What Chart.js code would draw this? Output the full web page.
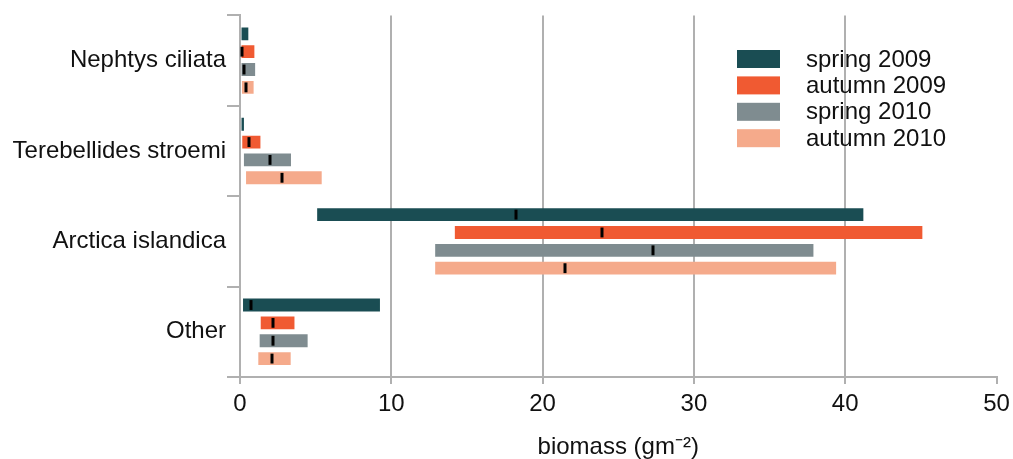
<!DOCTYPE html>
<html>
<head>
<meta charset="utf-8">
<script src="https://cdn.jsdelivr.net/npm/chart.js@4/dist/chart.umd.min.js"></script>
<style>
html,body{margin:0;padding:0;background:#fff;}
#wrap{position:relative;width:1013px;height:459px;}
</style>
</head>
<body>
<div id="wrap"><canvas id="c" width="1013" height="459"></canvas></div>
<script>
const categories = ['Nephtys ciliata', 'Terebellides stroemi', 'Arctica islandica', 'Other'];
const seriesNames = ['spring 2009', 'autumn 2009', 'spring 2010', 'autumn 2010'];
const seriesColors = ['#1a4d53', '#f05a32', '#7f8c90', '#f5aa8b'];

const spring2009Min = [0.1, 0.1, 5.1, 0.2];
const spring2009Max = [0.55, 0.26, 41.2, 9.25];
const spring2009Median = [null, null, 18.25, 0.75];

const autumn2009Min = [0.1, 0.15, 14.2, 1.37];
const autumn2009Max = [0.95, 1.35, 45.1, 3.6];
const autumn2009Median = [0.15, 0.6, 23.9, 2.2];

const spring2010Min = [0.1, 0.26, 12.9, 1.3];
const spring2010Max = [1.0, 3.37, 37.9, 4.47];
const spring2010Median = [0.28, 2.0, 27.3, 2.16];

const autumn2010Min = [0.13, 0.4, 12.9, 1.21];
const autumn2010Max = [0.9, 5.4, 39.4, 3.35];
const autumn2010Median = [0.42, 2.78, 21.45, 2.12];

const xTicks = [0, 10, 20, 30, 40, 50];

const mins = [spring2009Min, autumn2009Min, spring2010Min, autumn2010Min];
const maxs = [spring2009Max, autumn2009Max, spring2010Max, autumn2010Max];
const medians = [spring2009Median, autumn2009Median, spring2010Median, autumn2010Median];

const FONT = "'Liberation Sans', Arial, Helvetica, sans-serif";
const AXIS = '#b0b0b0';

const datasets = seriesNames.map((name, i) => ({
  label: name,
  data: categories.map((c, j) => [mins[i][j], maxs[i][j]]),
  medians: medians[i],
  backgroundColor: seriesColors[i],
  borderWidth: 0,
  borderSkipped: false,
  categoryPercentage: 0.79,
  barPercentage: 0.72
}));

const medianPlugin = {
  id: 'medianMarks',
  afterDatasetsDraw(chart) {
    const ctx = chart.ctx;
    const xs = chart.scales.x;
    chart.data.datasets.forEach((ds, i) => {
      const meta = chart.getDatasetMeta(i);
      meta.data.forEach((bar, j) => {
        const m = ds.medians[j];
        if (m === null || m === undefined) return;
        const px = xs.getPixelForValue(m);
        const h = bar.height - 3;
        ctx.save();
        ctx.fillStyle = '#000';
        ctx.fillRect(Math.round(px) - 1.5, bar.y - h / 2, 3, h);
        ctx.restore();
      });
    });
  }
};

const legendPlugin = {
  id: 'customLegend',
  afterDraw(chart) {
    const ctx = chart.ctx;
    ctx.save();
    ctx.font = '24px ' + FONT;
    ctx.textBaseline = 'middle';
    ctx.textAlign = 'left';
    chart.data.datasets.forEach((ds, i) => {
      const y = 50 + i * 26.4;
      ctx.fillStyle = ds.backgroundColor;
      ctx.fillRect(737, y, 43, 18);
      ctx.fillStyle = '#111';
      ctx.fillText(ds.label, 806, y + 10);
    });
    ctx.restore();
  }
};

new Chart(document.getElementById('c'), {
  type: 'bar',
  data: { labels: categories, datasets },
  options: {
    indexAxis: 'y',
    responsive: false,
    animation: false,
    layout: { padding: { top: 13, right: 16.5, bottom: 0, left: 0 } },
    plugins: { legend: { display: false }, tooltip: { enabled: false } },
    scales: {
      x: {
        type: 'linear',
        min: 0,
        max: 50,
        afterBuildTicks(scale) { scale.ticks = xTicks.map(v => ({ value: v })); },
        afterFit(scale) { scale.height = 82; scale.paddingLeft = 0; scale.paddingRight = 0; },
        grid: {
          color: ctx => (ctx.tick && (ctx.tick.value === 0 || ctx.tick.value === 50)) ? 'rgba(0,0,0,0)' : AXIS,
          lineWidth: 2,
          tickColor: AXIS,
          tickLength: 7,
          drawTicks: true
        },
        border: { color: AXIS, width: 2 },
        ticks: {
          color: '#111',
          font: { family: FONT, size: 24 },
          padding: 6,
          maxRotation: 0
        },
        title: {
          display: true,
          text: 'biomass (gm⁻²)',
          color: '#111',
          font: { family: FONT, size: 24 },
          padding: { top: 14, bottom: -3 }
        }
      },
      y: {
        type: 'category',
        offset: true,
        afterFit(scale) { scale.width = 240; },
        grid: {
          offset: true,
          drawOnChartArea: false,
          drawTicks: true,
          tickLength: 13,
          tickColor: AXIS,
          lineWidth: 2,
          color: AXIS
        },
        border: { color: AXIS, width: 2 },
        ticks: {
          color: '#111',
          font: { family: FONT, size: 24 },
          padding: 1
        }
      }
    }
  },
  plugins: [medianPlugin, legendPlugin]
});
</script>
</body>
</html>
